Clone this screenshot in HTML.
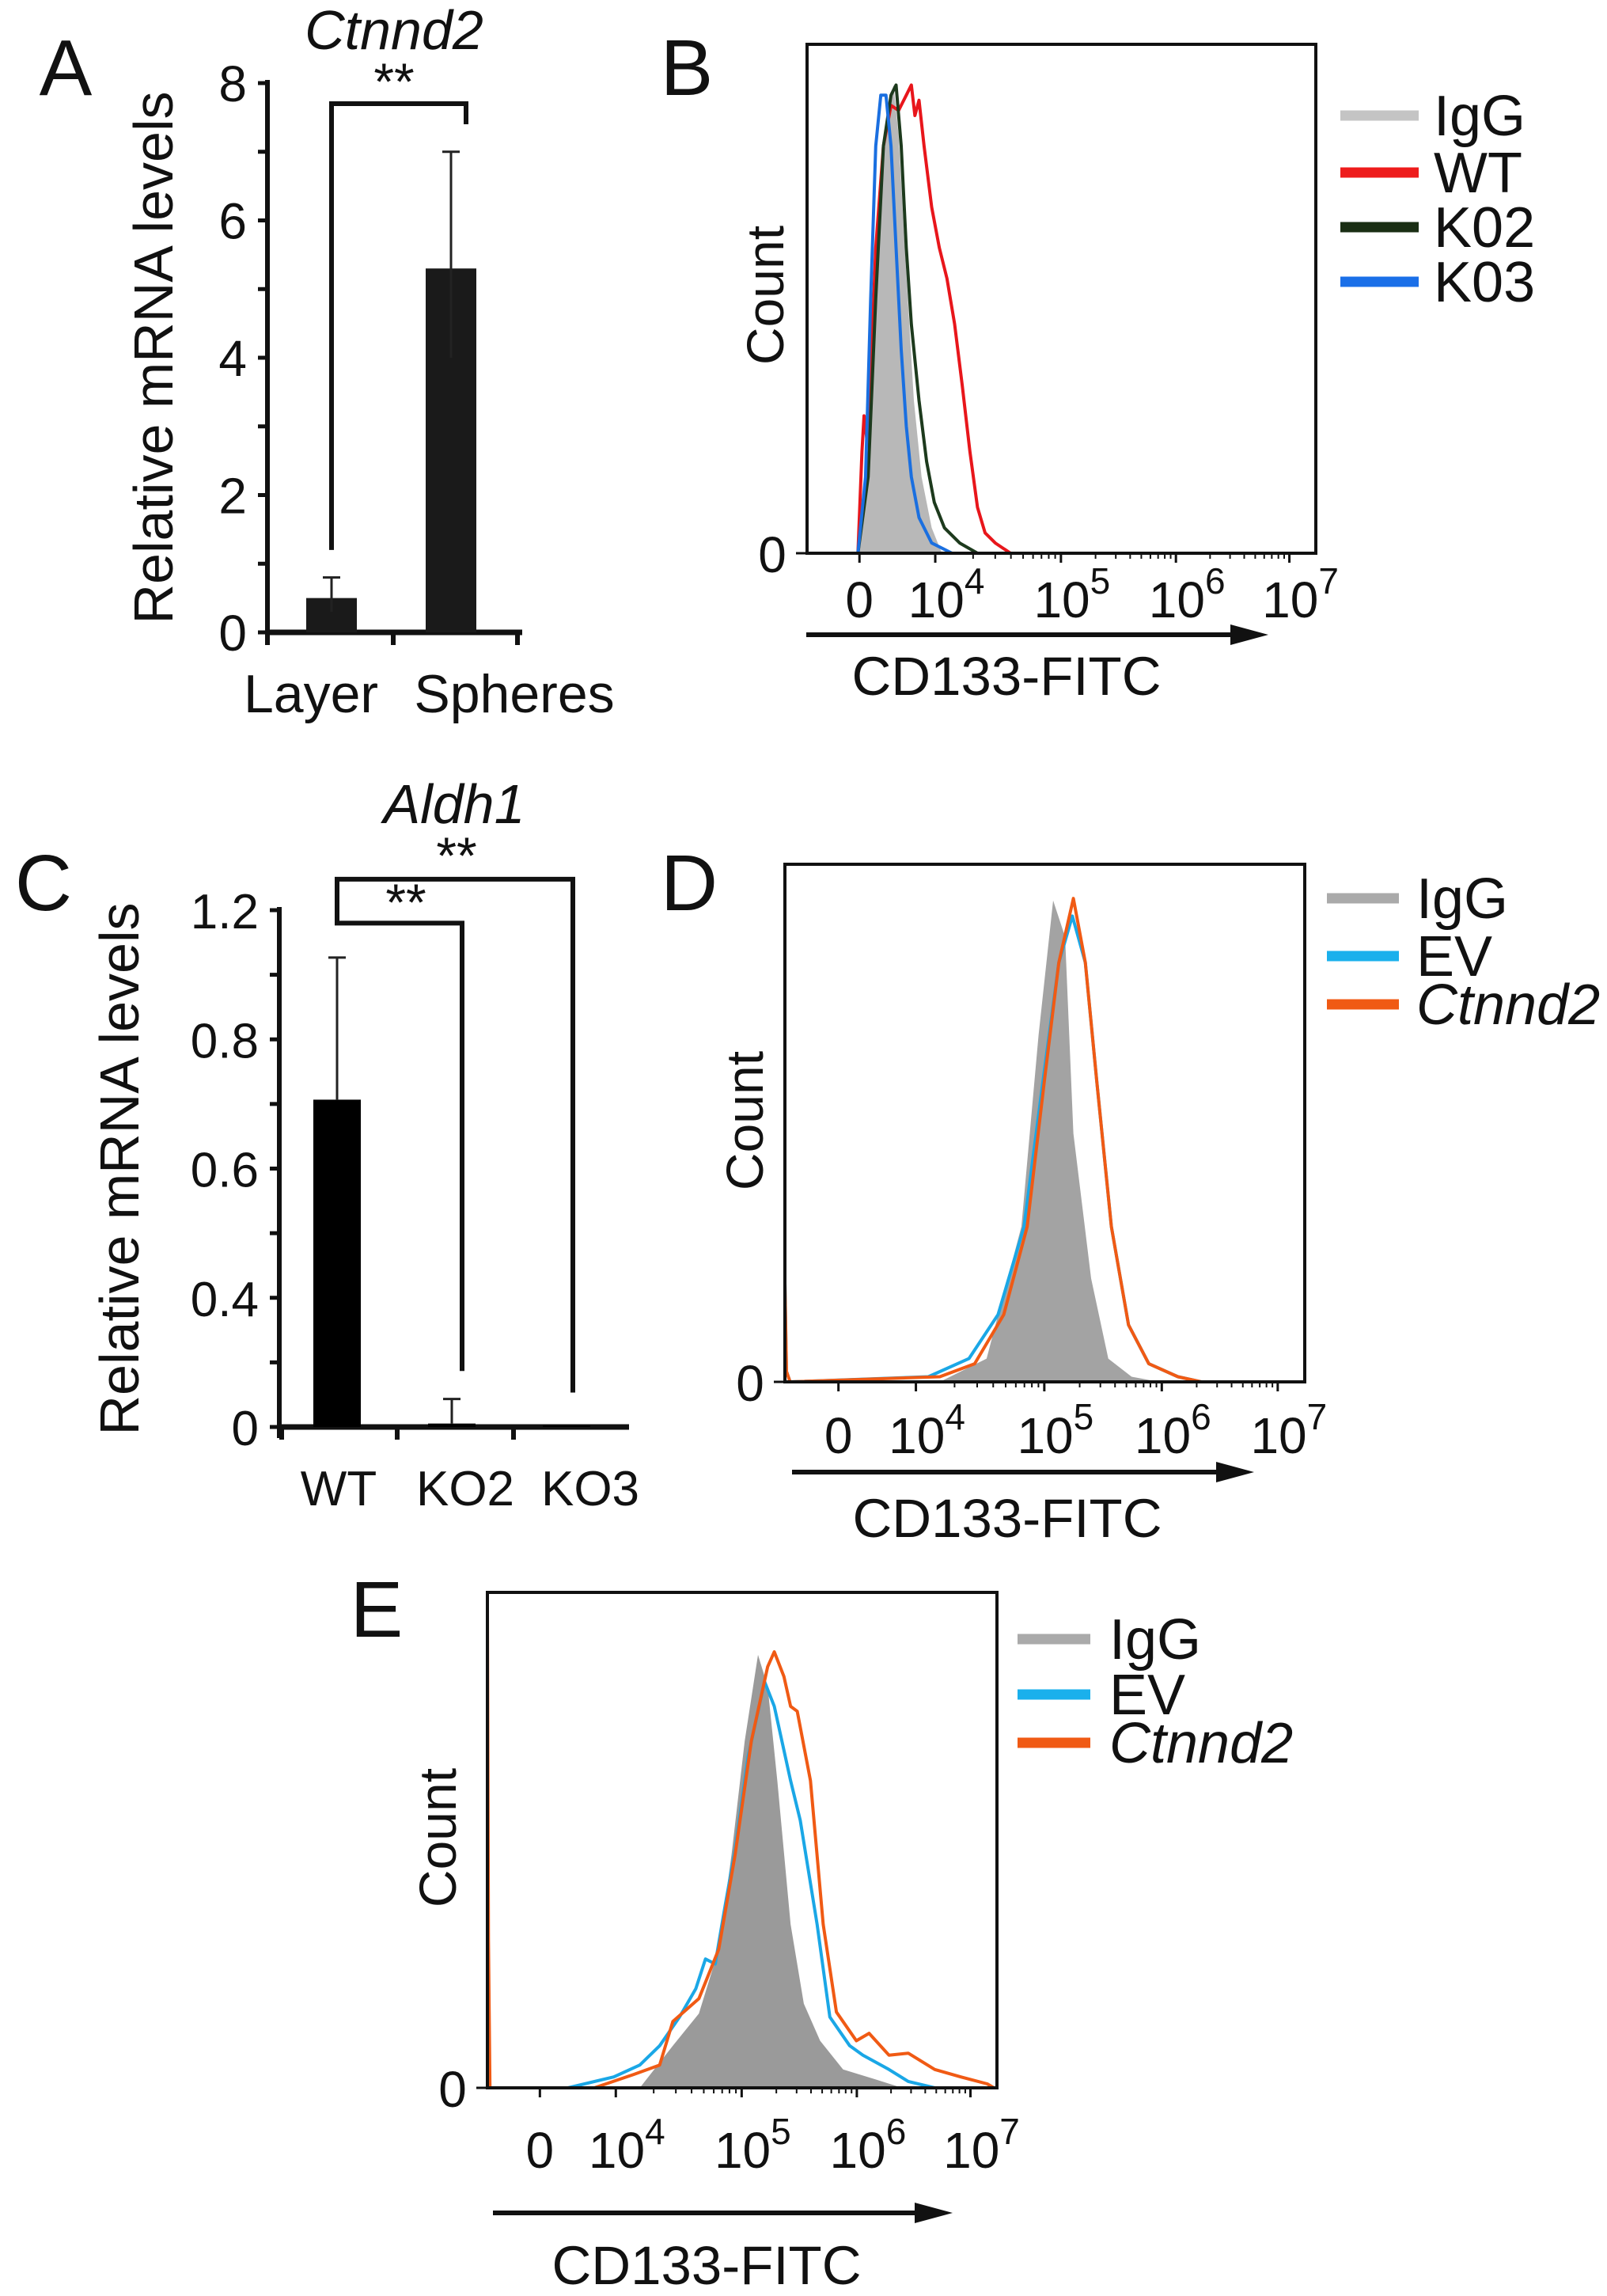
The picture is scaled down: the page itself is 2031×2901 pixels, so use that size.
<!DOCTYPE html>
<html><head><meta charset="utf-8"><style>
html,body{margin:0;padding:0;background:#fff}
svg{display:block;font-family:"Liberation Sans",Arial,sans-serif}
</style></head><body>
<svg id="fig" width="2031" height="2901" viewBox="0 0 2031 2901" xmlns="http://www.w3.org/2000/svg">
<rect width="2031" height="2901" fill="#fff"/>
<g id="root"></g>
</svg>
<script>
// ---------- Panel A data ----------
const aCategories = ["Layer","Spheres"];
const aValues = [0.5, 5.3];
const aErrHigh = [0.8, 7.0];
const aErrLow = [0.3, 4.0];
const aTicks = [0,1,2,3,4,5,6,7,8];
const aTickLabels = ["0","","2","","4","","6","","8"];
// ---------- Panel C data ----------
const cCategories = ["WT","KO2","KO3"];
const cValues = [0.76, 0.008, 0.004];
const cErrHigh = [1.09, 0.065, 0.004];
const cTicks = [0,0.15,0.3,0.45,0.6,0.75,0.9,1.05,1.2];
const cTickLabels = ["0","","0.4","","0.6","","0.8","","1.2"];
// ---------- Flow axes ----------
const flowTickChannels = [103,252,499,725,948];
const flowTickLabels = [["0",""],["10","4"],["10","5"],["10","6"],["10","7"]];
// ---------- Panel B data (channel 0-1000, fraction of max) ----------
const bIgGx = [0,100,115,130,145,160,170,180,195,210,225,245,265,1000];
const bIgGy = [0,0,0.1,0.4,0.7,0.88,0.92,0.82,0.55,0.3,0.15,0.05,0,0];
const bWTx = [0,100,108,112,118,125,135,150,165,180,195,205,212,220,230,245,260,275,290,305,320,335,350,370,385,400,1000];
const bWTy = [0,0,0.2,0.27,0.22,0.35,0.6,0.8,0.88,0.87,0.9,0.92,0.86,0.89,0.8,0.68,0.6,0.54,0.45,0.33,0.2,0.09,0.04,0.02,0.01,0,0];
const bK02x = [0,100,120,135,150,165,175,185,195,205,220,235,250,270,300,335,1000];
const bK02y = [0,0,0.15,0.5,0.8,0.9,0.92,0.8,0.6,0.45,0.3,0.18,0.1,0.05,0.02,0,0];
const bK03x = [0,100,115,125,135,145,155,165,175,185,195,205,220,245,285,1000];
const bK03y = [0,0,0.15,0.5,0.8,0.9,0.9,0.8,0.6,0.4,0.25,0.15,0.07,0.02,0,0];
// ---------- Panel D data ----------
const dIgGx = [0,298,388,455,488,516,539,555,589,622,667,720,1000];
const dIgGy = [0,0,0.045,0.3,0.67,0.93,0.86,0.48,0.2,0.045,0.01,0,0];
const dEVx = [0,3,10,276,354,410,460,499,527,553,578,600,628,661,700,756,801,1000];
const dEVy = [0.19,0.02,0,0.01,0.045,0.13,0.3,0.6,0.81,0.9,0.81,0.58,0.3,0.11,0.035,0.01,0,0];
const dCtx = [0,3,10,298,365,421,466,499,527,555,578,600,628,661,700,756,801,1000];
const dCty = [0.19,0.02,0,0.01,0.035,0.13,0.3,0.58,0.81,0.934,0.81,0.58,0.3,0.11,0.035,0.01,0,0];
// ---------- Panel E data ----------
const eIgGx = [0,299,364,415,454,479,505,531,550,569,595,621,653,698,762,814,1000];
const eIgGy = [0,0,0.085,0.15,0.28,0.47,0.7,0.874,0.81,0.62,0.33,0.17,0.095,0.037,0.017,0,0];
const eEVx = [0,2,5,158,248,299,338,377,409,428,447,467,486,512,544,563,595,614,647,672,711,737,788,826,878,1000];
const eEVy = [0.3,0.1,0,0,0.022,0.046,0.085,0.143,0.2,0.26,0.25,0.37,0.48,0.67,0.82,0.77,0.62,0.54,0.33,0.143,0.085,0.066,0.037,0.013,0,0];
const eCtx = [0,2,5,210,287,338,364,415,454,486,518,550,563,582,595,608,634,659,685,724,749,788,826,878,929,981,994,1000];
const eCty = [0.97,0.3,0,0,0.027,0.046,0.134,0.18,0.28,0.47,0.7,0.85,0.88,0.83,0.77,0.76,0.62,0.33,0.153,0.095,0.11,0.066,0.07,0.037,0.022,0.008,0,0];

const NS = "http://www.w3.org/2000/svg";
const root = document.getElementById('root');
function mk(tag, attrs, parent, text){
  const e = document.createElementNS(NS, tag);
  for (const k in attrs) e.setAttribute(k, attrs[k]);
  if (text !== undefined) e.textContent = text;
  (parent || root).appendChild(e);
  return e;
}
function txt(x,y,s,size,parent,extra){
  const a = Object.assign({x:x,y:y,'font-size':size,'text-anchor':'middle',fill:'#111'}, extra||{});
  return mk('text',a,parent,s);
}

// ================= Bar chart =================
function barChart(o){
  const g = mk('g',{});
  
  
  const y = v => o.y0 - (v - 0) * (o.y0 - o.yTop) / o.vmax;
  const L = txt(o.letter[0], o.letter[1], o.letter[2], 100, g);
  
  
  const T = txt(o.title[0], o.title[1], o.title[2], 70, g, {'font-style':'italic'});
  
  
  const ya = mk('line',{x1:o.xAxis,y1:o.yTop-4,x2:o.xAxis,y2:o.y0+14,stroke:'#111','stroke-width':6},g);
  
  
  o.ticks.forEach((t,i)=>{
    mk('line',{x1:o.xAxis-12,y1:y(t),x2:o.xAxis,y2:y(t),stroke:'#111','stroke-width':5},g);
    if (o.tickLabels[i]) {
      const tl = txt(o.xAxis-26, y(t)+23, o.tickLabels[i], o.tickSize, g, {'text-anchor':'end'});
      
      
    }
  });
  const xa = mk('line',{x1:o.xAxis-3,y1:o.y0,x2:o.xEnd,y2:o.y0,stroke:'#111','stroke-width':7},g);
  
  
  o.xTicks.forEach(x=>mk('line',{x1:x,y1:o.y0,x2:x,y2:o.y0+16,stroke:'#111','stroke-width':6},g));
  const yl = txt(0,0,o.ylabel,70,g,{transform:`translate(${o.ylabelX},${o.ylabelY}) rotate(-90)`});
  
  
  o.cats.forEach((c,i)=>{
    const cx = o.centers[i];
    const b = mk('rect',{x:cx-o.bw/2,y:y(o.vals[i]),width:o.bw,height:o.y0-y(o.vals[i]),fill:o.barFill},g);
    
    
    const lo = o.low ? o.low[i] : o.vals[i];
    if (o.hi[i] > o.vals[i]) {
      const e = mk('path',{d:`M${cx},${y(lo)}V${y(o.hi[i])}M${cx-11},${y(o.hi[i])}H${cx+11}`,stroke:'#222','stroke-width':3,fill:'none'},g);
      
      
    }
    const xl = txt(o.labelX[i], o.labelY, c, o.xLabelSize, g);
    
    
  });
  o.brackets.forEach(br=>{
    const p = mk('path',{d:`M${br.x1},${y(br.v1)}V${y(br.top)}H${br.x2}V${y(br.v2)}`,stroke:'#111','stroke-width':6,fill:'none'},g);
    
    
    const s = txt(br.sx, br.sy, '**', 66, g);
    
    
  });
}

barChart({name:'panel-a-bar-chart', letter:[83,120,'A'], title:[498,62,'Ctnnd2'],
  xAxis:338, y0:799, yTop:105, vmax:8, xEnd:660, xTicks:[338,497,654],
  ticks:aTicks, tickLabels:aTickLabels, tickSize:64, ylabel:'Relative mRNA levels', ylabelX:218, ylabelY:452,
  cats:aCategories, vals:aValues, hi:aErrHigh, low:aErrLow, centers:[419,570], bw:64, barFill:'#1a1a1a',
  labelX:[393,650], labelY:900, xLabelSize:68,
  brackets:[{x1:419,x2:589,v1:1.2,v2:7.4,top:7.7,sx:498,sy:126}]});

barChart({name:'panel-c-bar-chart', letter:[55,1150,'C'], title:[574,1040,'Aldh1'],
  xAxis:353, y0:1803, yTop:1150, vmax:1.2, xEnd:795, xTicks:[356,502,649],
  ticks:cTicks, tickLabels:cTickLabels, tickSize:62, ylabel:'Relative mRNA levels', ylabelX:175, ylabelY:1477,
  cats:cCategories, vals:cValues, hi:cErrHigh, low:null, centers:[426,571,716], bw:60, barFill:'#000',
  labelX:[428,588,746], labelY:1902, xLabelSize:62,
  brackets:[{x1:426,x2:724,v1:1.2,v2:0.08,top:1.272,sx:577,sy:1104},
            {x1:426,x2:584,v1:1.2,v2:0.13,top:1.17,sx:513,sy:1163}]});

// ================= Flow histograms =================
function flowPanel(o){
  const g = mk('g',{});
  
  
  const W = o.right - o.left, H = o.bottom - o.top;
  const X = ch => o.left + ch * W / 1000;
  const Y = f => o.bottom - f * H;
  const L = txt(o.letter[0], o.letter[1], o.letter[2], 100, g);
  
  
  o.series.forEach(s=>{
    let d = '';
    s.x.forEach((c,i)=>{ d += (i?'L':'M') + X(c).toFixed(1) + ',' + Y(s.y[i]).toFixed(1); });
    let el;
    if (s.fill) el = mk('path',{d:d+`L${X(s.x[s.x.length-1])},${o.bottom}L${X(s.x[0])},${o.bottom}Z`,fill:s.fill,stroke:'none'},g);
    else el = mk('path',{d:d,fill:'none',stroke:s.color,'stroke-width':4,'stroke-linejoin':'round'},g);
    
    
  });
  const box = mk('rect',{x:o.left,y:o.top,width:W,height:H,fill:'none',stroke:'#111','stroke-width':4},g);
  
  
  mk('line',{x1:o.left-14,y1:o.bottom,x2:o.left,y2:o.bottom,stroke:'#111','stroke-width':3},g);
  const z = txt(o.left-44,o.bottom+24,'0',64,g);
  
  
  flowTickChannels.forEach((c,i)=>{
    mk('line',{x1:X(c),y1:o.bottom,x2:X(c),y2:o.bottom+12,stroke:'#111','stroke-width':3},g);
    if (i>0 && i<flowTickChannels.length-1){
      const next = flowTickChannels[i+1];
      for (let k=2;k<10;k++){
        const cc = c + Math.log10(k)*(next-c);
        mk('line',{x1:X(cc),y1:o.bottom,x2:X(cc),y2:o.bottom+7,stroke:'#111','stroke-width':2},g);
      }
    }
    const lab = flowTickLabels[i];
    const t = mk('text',{x:X(c)+(lab[1]?14:0),y:o.labelY,'font-size':64,'text-anchor':'middle',fill:'#111'},g);
    
    
    const t1 = document.createElementNS(NS,'tspan'); t1.textContent = lab[0]; t.appendChild(t1);
    if (lab[1]) { const t2 = document.createElementNS(NS,'tspan'); t2.setAttribute('dy','-30'); t2.setAttribute('font-size','46'); t2.textContent = lab[1]; t.appendChild(t2); }
  });
  const ar = mk('path',{d:`M${o.arrow[0]},${o.arrow[2]}H${o.arrow[1]-40}`,stroke:'#111','stroke-width':6},g);
  
  
  mk('path',{d:`M${o.arrow[1]-48},${o.arrow[2]-13}L${o.arrow[1]},${o.arrow[2]}L${o.arrow[1]-48},${o.arrow[2]+13}Z`,fill:'#111'},g);
  const xt = txt(o.xtitle[0],o.xtitle[1],'CD133-FITC',69,g);
  
  
  const yt = txt(0,0,'Count',66,g,{transform:`translate(${o.ylab[0]},${o.ylab[1]}) rotate(-90)`});
  
  
  o.legend.forEach((l,i)=>{
    const yy = o.legY[i];
    const sw = mk('line',{x1:o.legX[0],y1:yy,x2:o.legX[1],y2:yy,stroke:l.color,'stroke-width':13},g);
    
    
    const lt = txt(o.legX[2],yy+25,l.label,72,g,{'text-anchor':'start','font-style':l.italic?'italic':'normal'});
    
    
  });
}

flowPanel({name:'panel-b-histogram', letter:[868,120,'B'], left:1020,right:1663,top:56,bottom:699,
  labelY:780, arrow:[1019,1603,802], xtitle:[1272,878], ylab:[990,373],
  series:[{key:'igg',x:bIgGx,y:bIgGy,fill:'#b8b8b8'},
          {key:'wt',x:bWTx,y:bWTy,color:'#e8161b'},
          {key:'k02',x:bK02x,y:bK02y,color:'#1d3a1d'},
          {key:'k03',x:bK03x,y:bK03y,color:'#1a6fe0'}],
  legend:[{key:'igg',label:'IgG',color:'#c4c4c4'},{key:'wt',label:'WT',color:'#ee1c1c'},
          {key:'k02',label:'K02',color:'#1a2e14'},{key:'k03',label:'K03',color:'#1a6fe8'}],
  legX:[1694,1793,1812], legY:[146,218,287,356]});

flowPanel({name:'panel-d-histogram', letter:[871,1150,'D'], left:992,right:1649,top:1092,bottom:1746,
  labelY:1836, arrow:[1001,1585,1860], xtitle:[1273,1942], ylab:[964,1416],
  series:[{key:'igg',x:dIgGx,y:dIgGy,fill:'#a3a3a3'},
          {key:'ev',x:dEVx,y:dEVy,color:'#1aa7e6'},
          {key:'ctnnd2',x:dCtx,y:dCty,color:'#f05a14'}],
  legend:[{key:'igg',label:'IgG',color:'#aaaaaa'},{key:'ev',label:'EV',color:'#1ab0ec'},
          {key:'ctnnd2',label:'Ctnnd2',color:'#f05a14',italic:true}],
  legX:[1677,1768,1790], legY:[1135,1208,1269]});

flowPanel({name:'panel-e-histogram', letter:[476,2068,'E'], left:616,right:1260,top:2012,bottom:2638,
  labelY:2739, arrow:[623,1204,2796], xtitle:[893,2886], ylab:[576,2322],
  series:[{key:'igg',x:eIgGx,y:eIgGy,fill:'#9a9a9a'},
          {key:'ev',x:eEVx,y:eEVy,color:'#1aa7e6'},
          {key:'ctnnd2',x:eCtx,y:eCty,color:'#f05a14'}],
  legend:[{key:'igg',label:'IgG',color:'#aaaaaa'},{key:'ev',label:'EV',color:'#1ab0ec'},
          {key:'ctnnd2',label:'Ctnnd2',color:'#f05a14',italic:true}],
  legX:[1286,1378,1402], legY:[2071,2141,2202]});
</script>
</body></html>
